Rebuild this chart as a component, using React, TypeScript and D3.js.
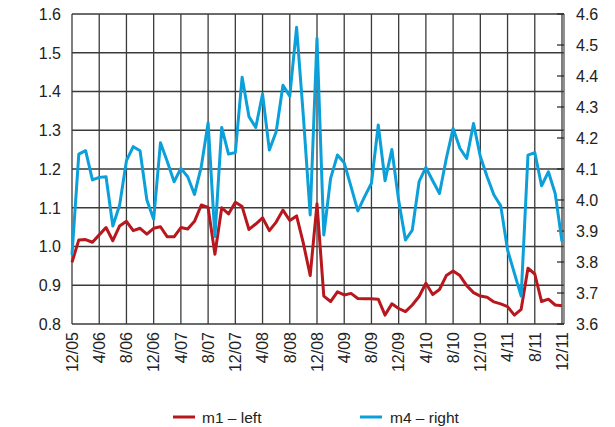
import React from "react";
import * as d3 from "d3";

const xLabels = ["12/05","4/06","8/06","12/06","4/07","8/07","12/07","4/08","8/08","12/08","4/09","8/09","12/09","4/10","8/10","12/10","4/11","8/11","12/11"];

const m1Left = [
  0.959,1.017,1.018,1.011,1.030,1.049,1.015,1.053,1.065,1.041,1.047,1.032,1.047,1.051,1.025,1.025,1.049,1.045,
  1.065,1.107,1.101,0.980,1.100,1.084,1.114,1.103,1.044,1.058,1.074,1.041,1.063,1.094,1.067,1.079,1.008,0.925,
  1.110,0.872,0.858,0.883,0.875,0.879,0.866,0.865,0.865,0.864,0.823,0.852,0.840,0.832,0.849,0.871,0.905,0.876,
  0.889,0.925,0.937,0.925,0.899,0.881,0.872,0.869,0.857,0.852,0.845,0.823,0.838,0.944,0.929,0.858,0.864,0.849,0.847
];

const m4Right = [
  3.823,4.148,4.159,4.065,4.073,4.075,3.916,3.984,4.127,4.172,4.159,4.000,3.938,4.185,4.124,4.059,4.102,4.075,
  4.018,4.108,4.249,3.882,4.234,4.148,4.153,4.396,4.269,4.234,4.342,4.161,4.220,4.370,4.335,4.557,4.269,3.952,
  4.522,3.887,4.070,4.145,4.120,4.043,3.965,4.011,4.054,4.242,4.062,4.163,3.998,3.871,3.903,4.059,4.105,4.062,
  4.021,4.134,4.231,4.167,4.134,4.247,4.140,4.075,4.016,3.981,3.839,3.764,3.690,4.145,4.153,4.046,4.091,4.021,3.866
];

const leftTicks = [0.8,0.9,1.0,1.1,1.2,1.3,1.4,1.5,1.6];
const rightTicks = [3.6,3.7,3.8,3.9,4.0,4.1,4.2,4.3,4.4,4.5,4.6];

const W = 615, H = 427;
const L = 72, R = 562, T = 14, B = 324;
const FONT = "'Liberation Sans Narrow', 'Arial Narrow', 'Liberation Sans', Arial, sans-serif";
const RED = "#b8171d";
const BLUE = "#0ba0da";

export default function App() {
  const n = m1Left.length;
  const x = d3.scaleLinear().domain([0, n - 1]).range([L, R]);
  const yL = d3.scaleLinear().domain([0.8, 1.6]).range([B, T]);
  const yR = d3.scaleLinear().domain([3.6, 4.6]).range([B, T]);
  const lineL = d3.line<number>().x((_, i) => x(i)).y(d => yL(d));
  const lineR = d3.line<number>().x((_, i) => x(i)).y(d => yR(d));

  return (
    <div style={{ position: "absolute", left: 0, top: 0 }}>
      <svg width={W} height={H} style={{ display: "block", background: "#fff" }}>
        {leftTicks.map(t => (
          <line key={"h" + t} x1={L} x2={R + 2} y1={yL(t)} y2={yL(t)} stroke="#3a3a3a" strokeWidth={1.3} />
        ))}
        {xLabels.map((lab, k) => (
          <line key={"v" + k} x1={x(k * 4)} x2={x(k * 4)} y1={T} y2={B} stroke="#3a3a3a" strokeWidth={1.3} />
        ))}
        <line x1={R + 2} x2={R + 2} y1={T} y2={B} stroke="#555" strokeWidth={1.3} />
        {rightTicks.map(t => (
          <line key={"rt" + t} x1={R - 5} x2={R + 2} y1={yR(t)} y2={yR(t)} stroke="#222" strokeWidth={1.2} />
        ))}
        <path d={lineL(m1Left) || ""} fill="none" stroke={RED} strokeWidth={3} strokeLinejoin="round" />
        <path d={lineR(m4Right) || ""} fill="none" stroke={BLUE} strokeWidth={3} strokeLinejoin="round" />
        {leftTicks.map(t => (
          <text key={"lt" + t} x={61} y={yL(t)} dy="0.36em" textAnchor="end" fontFamily={FONT} fontSize={16} fill="#222">
            {t.toFixed(1)}
          </text>
        ))}
        {rightTicks.map(t => (
          <text key={"rl" + t} x={576} y={yR(t)} dy="0.36em" textAnchor="start" fontFamily={FONT} fontSize={16} fill="#222">
            {t.toFixed(1)}
          </text>
        ))}
        {xLabels.map((lab, k) => (
          <text key={"xl" + k} transform={`translate(${x(k * 4)},332) rotate(-90)`} dy="0.36em" textAnchor="end"
            fontFamily={FONT} fontSize={16} fill="#222">
            {lab}
          </text>
        ))}
        <line x1={173} x2={195} y1={417} y2={417} stroke={RED} strokeWidth={3} />
        <text x={202} y={417} dy="0.36em" fontFamily={FONT} fontSize={15.5} fill="#222">m1 – left</text>
        <line x1={360} x2={382} y1={417} y2={417} stroke={BLUE} strokeWidth={3} />
        <text x={390} y={417} dy="0.36em" fontFamily={FONT} fontSize={15.5} fill="#222">m4 – right</text>
      </svg>
    </div>
  );
}
